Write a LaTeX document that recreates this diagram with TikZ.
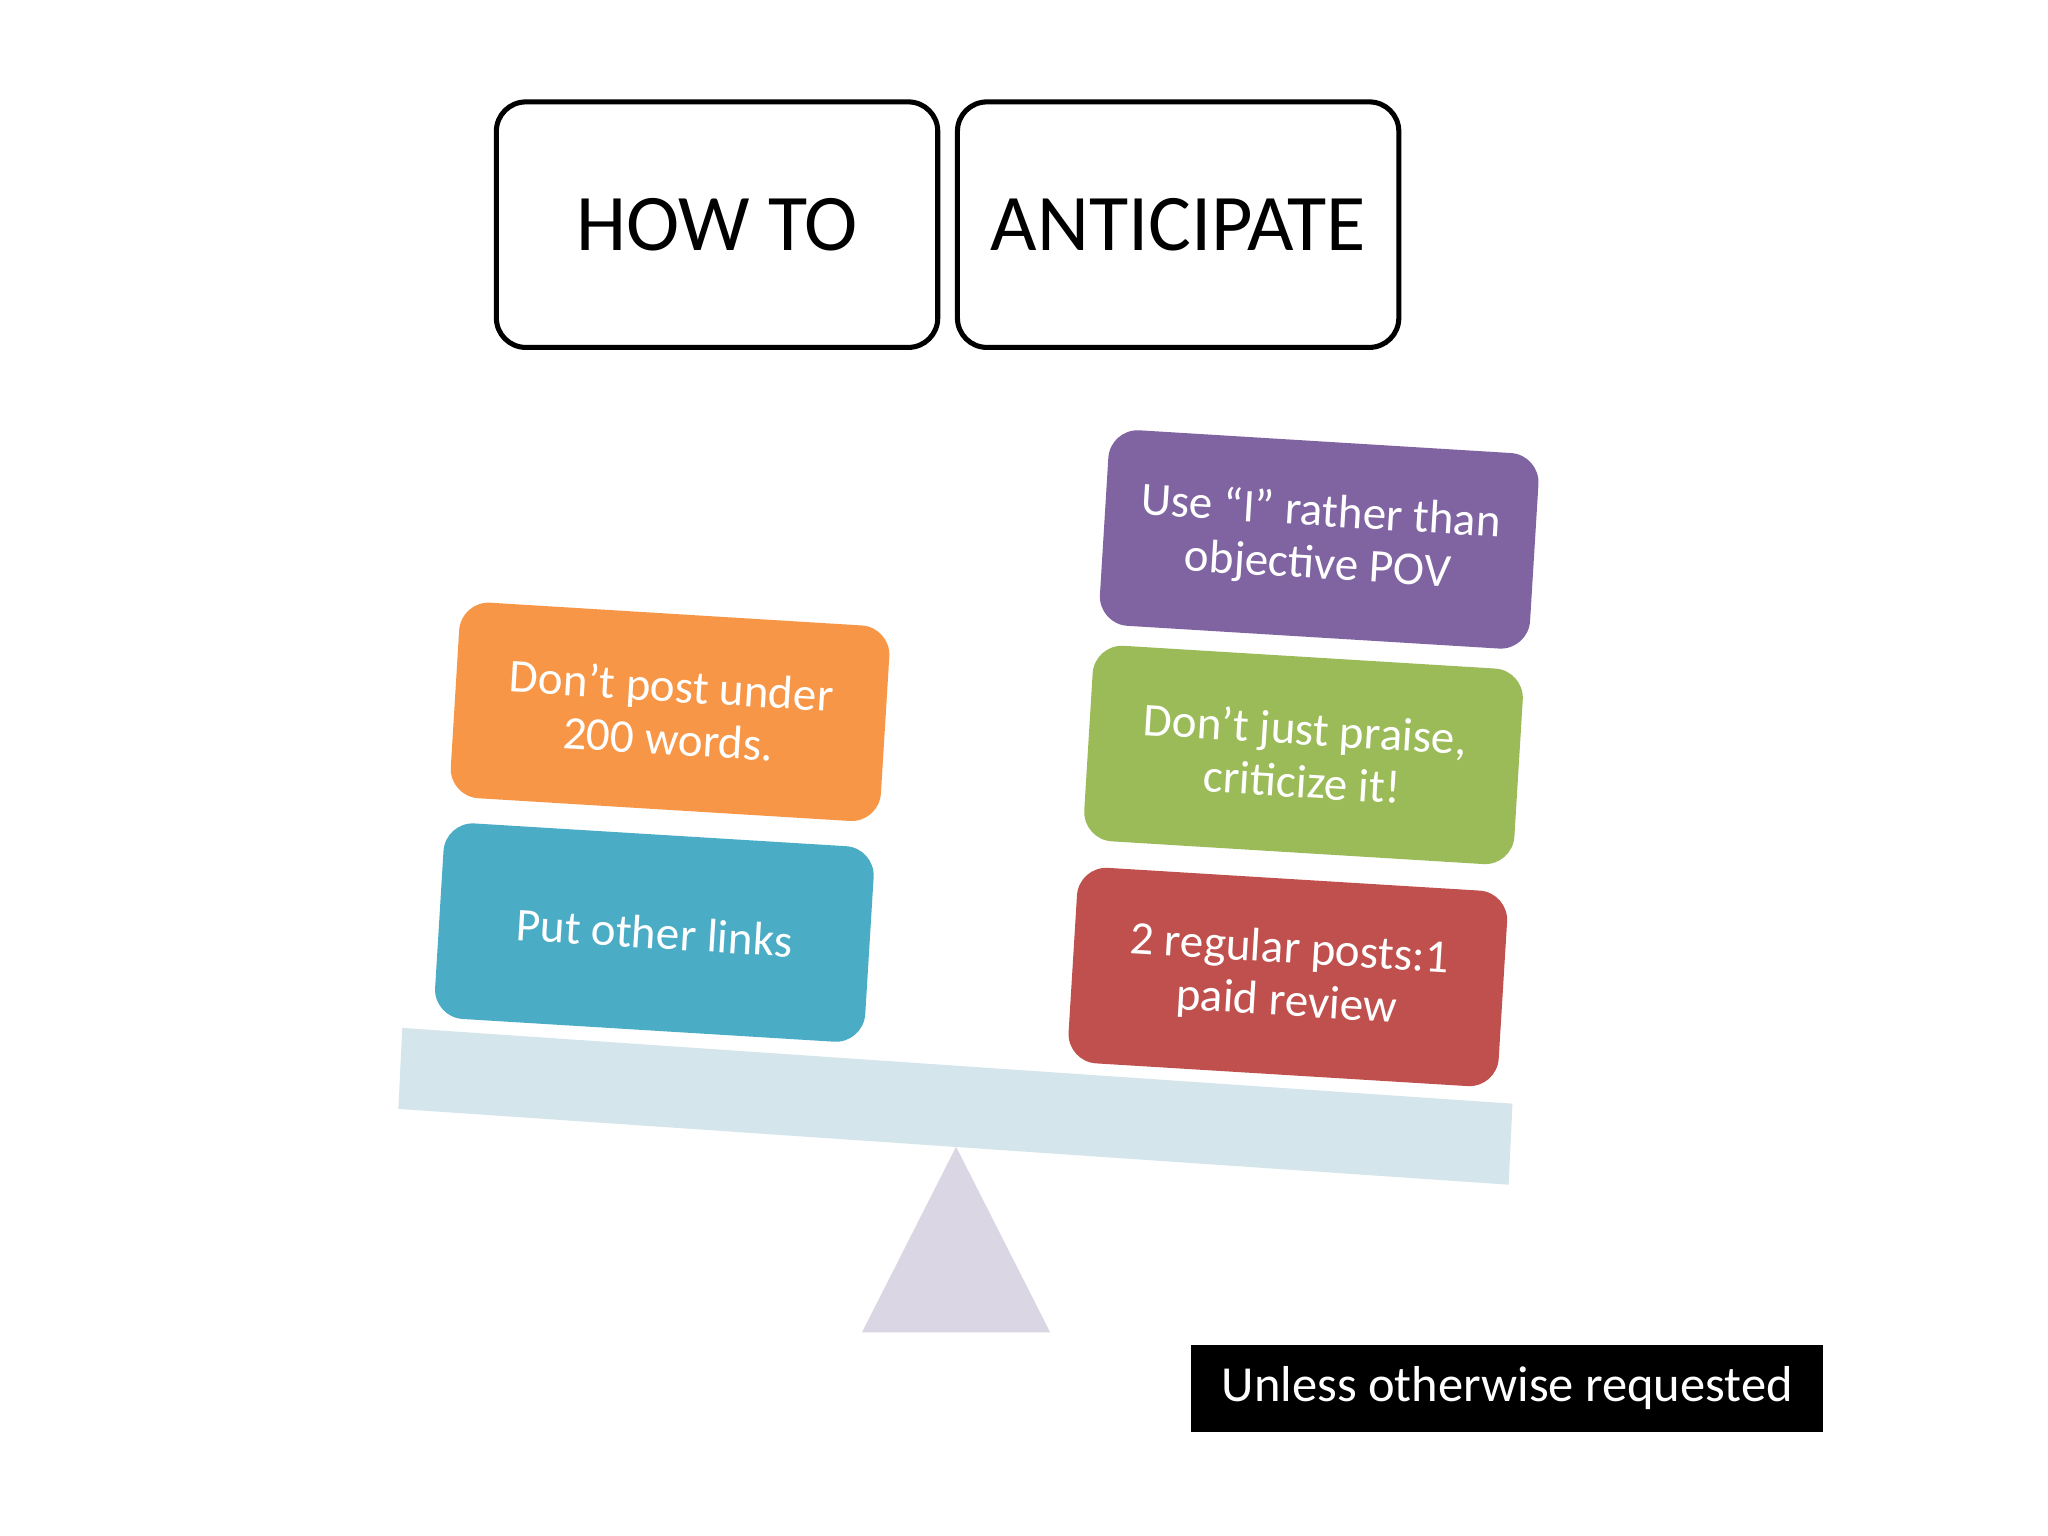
\documentclass[tikz,border=0pt]{standalone}
\usepackage{fontspec}
\setmainfont{Carlito}
\begin{document}
\begin{tikzpicture}[x=0.02cm,y=-0.02cm,
  titlebox/.style={draw=black,line width=2.2pt,rounded corners=0.45cm,minimum width=6.76cm,minimum height=3.76cm,inner sep=0pt,font=\fontsize{35}{40}\selectfont},
  card/.style={rounded corners=0.45cm,minimum width=6.6cm,minimum height=3.0cm,text=white,align=center,rotate=-3.5,font=\fontsize{20.5}{23}\selectfont,inner sep=0pt}]
\useasboundingbox (0,0) rectangle (1568,1176);
\fill[white] (0,0) rectangle (1568,1176);
\node[titlebox] (how) at (549,172) {HOW TO};
\node[titlebox] (ant) at (902,172) {ANTICIPATE};
\fill[fill={rgb,255:red,213;green,229;blue,236}] (308,787) -- (1158,845) -- (1155,907) -- (305,849) -- cycle;
\fill[fill={rgb,255:red,218;green,214;blue,227}] (732,878) -- (804,1020) -- (660,1020) -- cycle;
\node[card,fill={rgb,255:red,247;green,150;blue,70}] (o) at (513,545) {Don’t post under\\200 words.};
\node[card,fill={rgb,255:red,75;green,172;blue,198}] (b) at (501,714) {Put other links};
\node[card,fill={rgb,255:red,128;green,100;blue,162}] (p) at (1010,413) {Use “I” rather than\\objective POV};
\node[card,fill={rgb,255:red,155;green,187;blue,89}] (g) at (998,578) {Don’t just praise,\\criticize it!};
\node[card,fill={rgb,255:red,192;green,80;blue,77}] (r) at (986,748) {2 regular posts:1\\paid review};
\node[fill=black,text=white,minimum width=9.68cm,minimum height=1.34cm,font=\fontsize{22}{26}\selectfont] (u) at (1154,1063) {Unless otherwise requested};
\end{tikzpicture}
\end{document}
